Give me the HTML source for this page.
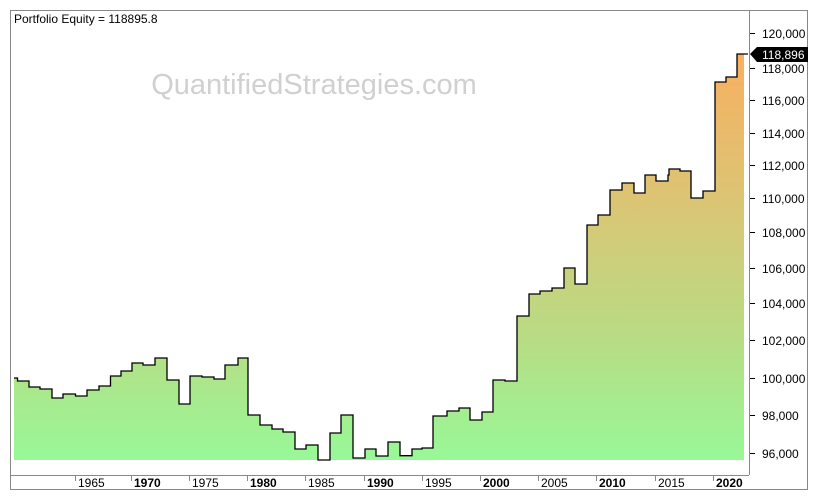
<!DOCTYPE html>
<html><head><meta charset="utf-8"><style>
body{margin:0;background:#fff;}
svg{display:block;font-family:"Liberation Sans",Arial,sans-serif;}
</style></head><body>
<svg width="819" height="500" viewBox="0 0 819 500">
<defs>
<linearGradient id="g" gradientUnits="userSpaceOnUse" x1="0" y1="54" x2="0" y2="460">
<stop offset="0" stop-color="#f8b060"/>
<stop offset="0.35" stop-color="#dcc474"/>
<stop offset="0.7" stop-color="#b8dc84"/>
<stop offset="1" stop-color="#98f898"/>
</linearGradient>
</defs>
<rect x="0" y="0" width="819" height="500" fill="#fff"/>
<text x="314" y="94" font-size="29" fill="#d0d0d0" text-anchor="middle">QuantifiedStrategies.com</text>
<path id="p" d="M14,460 L14,378 L17.5,378 L17.5,381 L29,381 L29,387 L40,387 L40,389 L52,389 L52,398 L63,398 L63,394 L75.5,394 L75.5,396 L87,396 L87,390 L99,390 L99,386 L110.5,386 L110.5,376 L121,376 L121,371 L132,371 L132,363 L143,363 L143,365 L155,365 L155,358 L167,358 L167,380 L179,380 L179,404 L190,404 L190,376 L202,376 L202,377 L214,377 L214,379 L225,379 L225,365 L238,365 L238,358 L248,358 L248,415 L260,415 L260,425 L272,425 L272,429 L283,429 L283,432 L295,432 L295,449 L306,449 L306,445 L318,445 L318,460 L330,460 L330,433 L341,433 L341,415 L353,415 L353,458 L365,458 L365,449 L376,449 L376,456 L388,456 L388,442 L400,442 L400,455.7 L412,455.7 L412,449 L422,449 L422,448 L433,448 L433,416 L447,416 L447,411 L459,411 L459,408 L470,408 L470,420 L482,420 L482,412 L493,412 L493,380 L505,380 L505,381 L517,381 L517,316 L529,316 L529,294 L540,294 L540,291 L552,291 L552,288 L564,288 L564,268 L575,268 L575,284 L587,284 L587,225 L598,225 L598,215 L610,215 L610,190 L622,190 L622,183 L634,183 L634,193 L645,193 L645,175 L656,175 L656,181 L668,181 L668,175 L669,175 L669,169 L680,169 L680,171 L691,171 L691,198 L703,198 L703,191 L715,191 L715,82 L726,82 L726,77 L737,77 L737,54 L744,54 L744,460 Z" fill="url(#g)"/>
<path d="M14,378 L17.5,378 L17.5,381 L29,381 L29,387 L40,387 L40,389 L52,389 L52,398 L63,398 L63,394 L75.5,394 L75.5,396 L87,396 L87,390 L99,390 L99,386 L110.5,386 L110.5,376 L121,376 L121,371 L132,371 L132,363 L143,363 L143,365 L155,365 L155,358 L167,358 L167,380 L179,380 L179,404 L190,404 L190,376 L202,376 L202,377 L214,377 L214,379 L225,379 L225,365 L238,365 L238,358 L248,358 L248,415 L260,415 L260,425 L272,425 L272,429 L283,429 L283,432 L295,432 L295,449 L306,449 L306,445 L318,445 L318,460 L330,460 L330,433 L341,433 L341,415 L353,415 L353,458 L365,458 L365,449 L376,449 L376,456 L388,456 L388,442 L400,442 L400,455.7 L412,455.7 L412,449 L422,449 L422,448 L433,448 L433,416 L447,416 L447,411 L459,411 L459,408 L470,408 L470,420 L482,420 L482,412 L493,412 L493,380 L505,380 L505,381 L517,381 L517,316 L529,316 L529,294 L540,294 L540,291 L552,291 L552,288 L564,288 L564,268 L575,268 L575,284 L587,284 L587,225 L598,225 L598,215 L610,215 L610,190 L622,190 L622,183 L634,183 L634,193 L645,193 L645,175 L656,175 L656,181 L668,181 L668,175 L669,175 L669,169 L680,169 L680,171 L691,171 L691,198 L703,198 L703,191 L715,191 L715,82 L726,82 L726,77 L737,77 L737,54 L748,54" fill="none" stroke="#000" stroke-width="1.3"/>
<!-- frame -->
<rect x="10.5" y="10.5" width="797" height="479" fill="none" stroke="#888"/>
<line x1="749.5" y1="10" x2="749.5" y2="475" stroke="#888"/>
<line x1="10" y1="475.5" x2="749" y2="475.5" stroke="#888"/>
<text x="14" y="23" font-size="12" fill="#000">Portfolio Equity = 118895.8</text>
<!-- y axis -->
<g font-size="12" fill="#000" stroke="#000">
<g stroke-width="1">
<line x1="750" y1="33.5" x2="755" y2="33.5"/><line x1="750" y1="68.5" x2="755" y2="68.5"/>
<line x1="750" y1="100.5" x2="755" y2="100.5"/><line x1="750" y1="133.5" x2="755" y2="133.5"/>
<line x1="750" y1="165.5" x2="755" y2="165.5"/><line x1="750" y1="198.5" x2="755" y2="198.5"/>
<line x1="750" y1="232.5" x2="755" y2="232.5"/><line x1="750" y1="268.5" x2="755" y2="268.5"/>
<line x1="750" y1="303.5" x2="755" y2="303.5"/><line x1="750" y1="340.5" x2="755" y2="340.5"/>
<line x1="750" y1="378.5" x2="755" y2="378.5"/><line x1="750" y1="415.5" x2="755" y2="415.5"/>
<line x1="750" y1="453.5" x2="755" y2="453.5"/>
</g>
<g stroke="none">
<text x="762" y="38">120,000</text><text x="762" y="73">118,000</text>
<text x="762" y="105">116,000</text><text x="762" y="138">114,000</text>
<text x="762" y="170">112,000</text><text x="762" y="203">110,000</text>
<text x="762" y="237">108,000</text><text x="762" y="273">106,000</text>
<text x="762" y="308">104,000</text><text x="762" y="345">102,000</text>
<text x="762" y="383">100,000</text><text x="762" y="420">98,000</text>
<text x="762" y="458">96,000</text>
</g>
</g>
<polygon points="750,54 757,47 808,47 808,62 757,62" fill="#000"/>
<text x="762" y="59" font-size="12" fill="#fff">118,896</text>
<!-- x axis -->
<g stroke="#888">
<line x1="75.5" y1="476" x2="75.5" y2="481"/><line x1="131.5" y1="476" x2="131.5" y2="481"/>
<line x1="189.5" y1="476" x2="189.5" y2="481"/><line x1="247.5" y1="476" x2="247.5" y2="481"/>
<line x1="305.5" y1="476" x2="305.5" y2="481"/><line x1="364.5" y1="476" x2="364.5" y2="481"/>
<line x1="422.5" y1="476" x2="422.5" y2="481"/><line x1="480.5" y1="476" x2="480.5" y2="481"/>
<line x1="538.5" y1="476" x2="538.5" y2="481"/><line x1="596.5" y1="476" x2="596.5" y2="481"/>
<line x1="655.5" y1="476" x2="655.5" y2="481"/><line x1="713.5" y1="476" x2="713.5" y2="481"/>
</g>
<g font-size="12" fill="#000">
<text x="78" y="487">1965</text><text x="134" y="487" font-weight="bold">1970</text>
<text x="192" y="487">1975</text><text x="250" y="487" font-weight="bold">1980</text>
<text x="308" y="487">1985</text><text x="367" y="487" font-weight="bold">1990</text>
<text x="425" y="487">1995</text><text x="483" y="487" font-weight="bold">2000</text>
<text x="541" y="487">2005</text><text x="599" y="487" font-weight="bold">2010</text>
<text x="658" y="487">2015</text><text x="716" y="487" font-weight="bold">2020</text>
</g>
</svg>
</body></html>
